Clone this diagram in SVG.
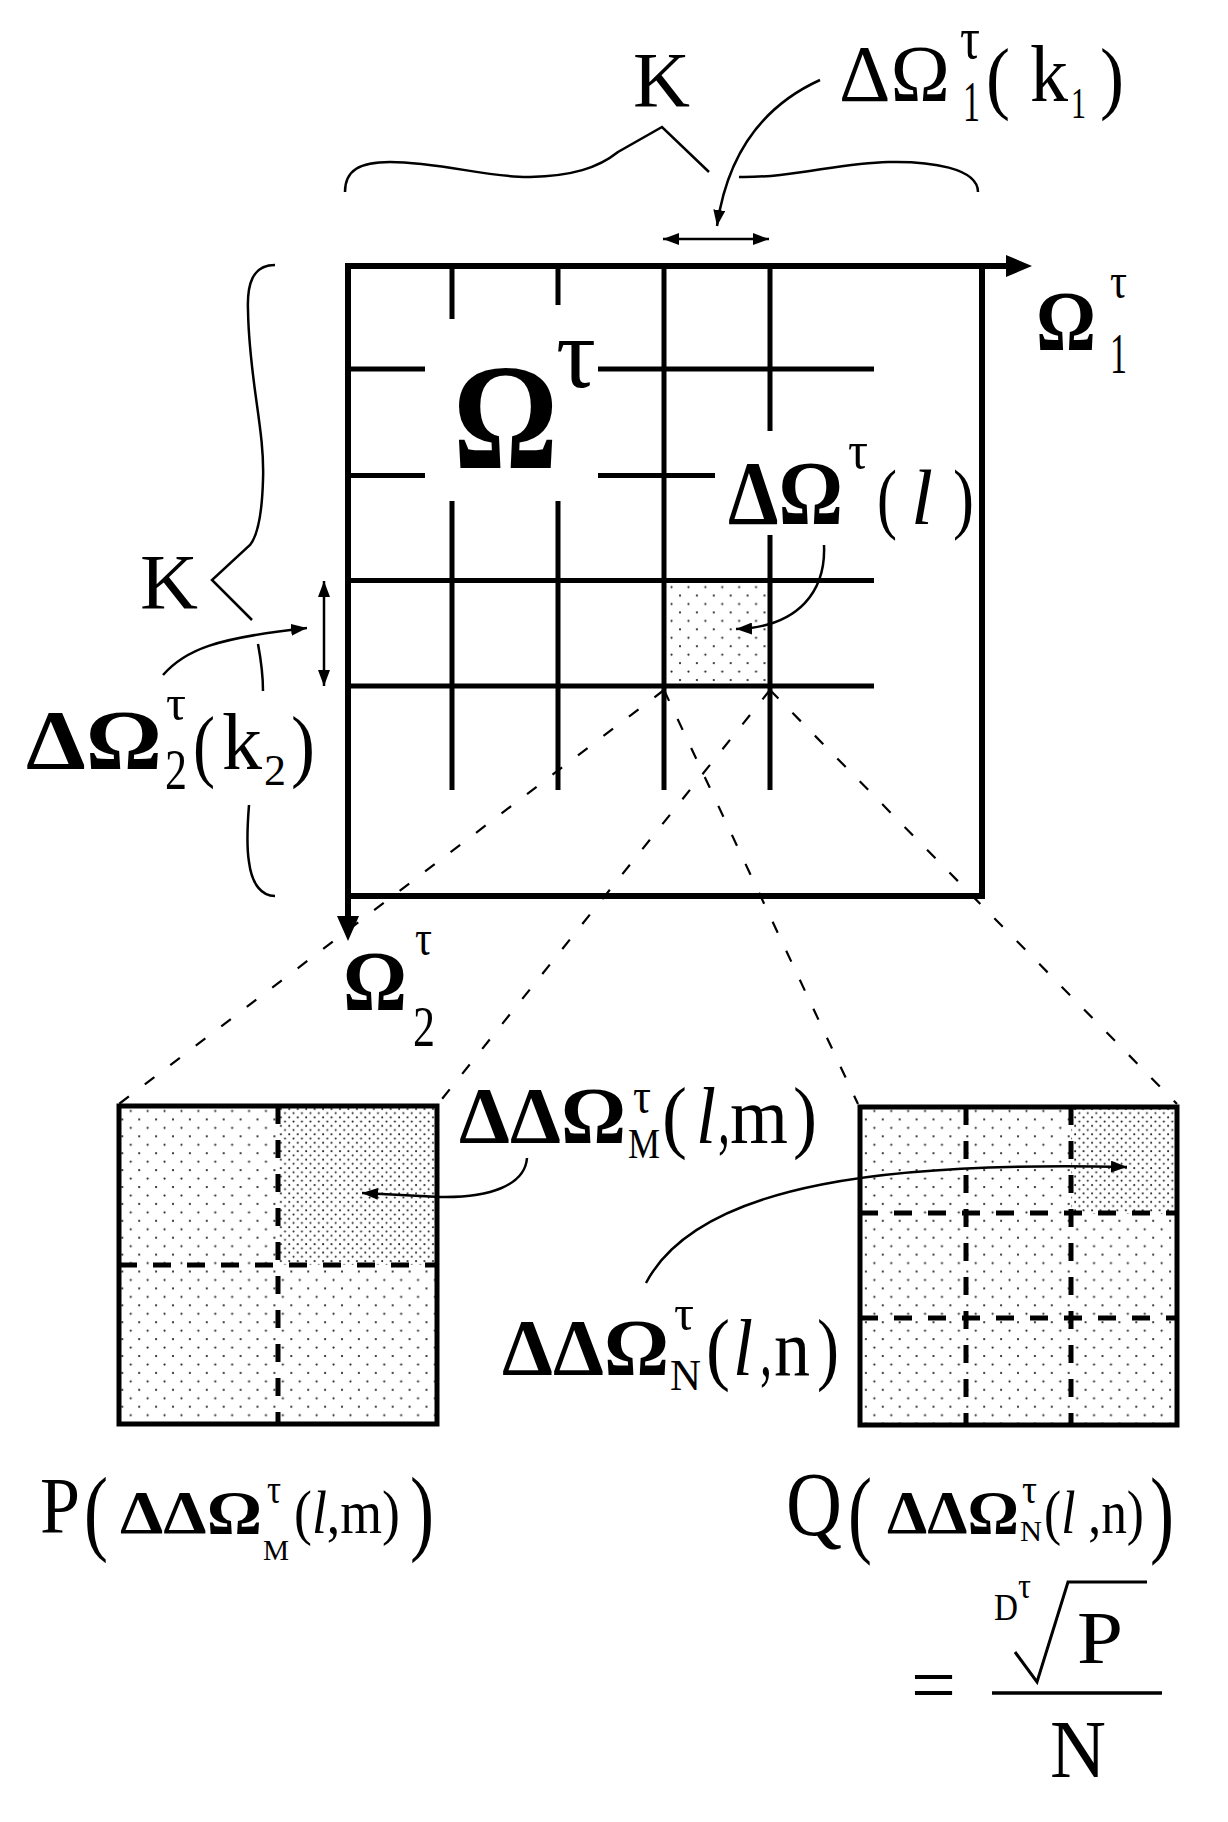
<svg xmlns="http://www.w3.org/2000/svg" width="1228" height="1822" viewBox="0 0 1228 1822">
<style>
.t{font-family:"Liberation Serif","Times New Roman",serif;fill:#000}
.b{font-weight:bold}
.i{font-style:italic}
.grid{stroke:#000;stroke-width:5;fill:none}
.frame{stroke:#000;stroke-width:6;fill:none;stroke-linecap:square}
.thin{stroke:#000;stroke-width:2.5;fill:none}
.proj{stroke:#000;stroke-width:2.2;fill:none;stroke-dasharray:12 20}
.dash{stroke:#000;stroke-width:5;fill:none;stroke-dasharray:18 16}
.box{stroke:#000;stroke-width:5;fill:none;stroke-linecap:square}
</style>
<defs>
<pattern id="light" patternUnits="userSpaceOnUse" width="16.9" height="16.9"><circle cx="4" cy="4" r="1.1" fill="#222"/><circle cx="12.45" cy="12.45" r="1.1" fill="#222"/></pattern>
<pattern id="dense" patternUnits="userSpaceOnUse" width="8.45" height="8.45"><circle cx="2" cy="2" r="1" fill="#222"/><circle cx="6.2" cy="6.2" r="1" fill="#222"/></pattern>
<marker id="ah" markerUnits="userSpaceOnUse" viewBox="0 0 16 12" refX="16" refY="6" markerWidth="16" markerHeight="12" orient="auto-start-reverse"><path d="M0 0 L16 6 L0 12 z" fill="#000"/></marker>
</defs>

<g id="main-grid">
<rect x="664" y="580.5" width="106" height="105.5" fill="url(#light)"/>
<path class="grid" d="M348 369 H425 M598 369 H874 M348 475.5 H425 M598 475.5 H715 M348 580.5 H874 M348 686 H874"/>
<path class="grid" d="M452 266 V319 M452 501 V790 M558 266 V305 M558 501 V790 M664 266 V790 M770 266 V431 M770 535 V790"/>
<path class="frame" d="M982 266 V896 H348"/>
<path d="M348 918 V266 H1008" stroke="#000" stroke-width="6" fill="none"/>
<polygon points="1006,255 1032,266 1006,277" fill="#000"/>
<polygon points="337,916 348,941 359,916" fill="#000"/>
</g>

<g id="label-omega-big">
<text class="t b" x="453" y="468" font-size="150" textLength="105" lengthAdjust="spacingAndGlyphs">Ω</text>
<text class="t" x="556" y="387" font-size="100" textLength="40" lengthAdjust="spacingAndGlyphs">τ</text>
</g>

<g id="label-K-top">
<text class="t" x="633" y="106" font-size="78" textLength="57" lengthAdjust="spacingAndGlyphs">K</text>
<path class="thin" d="M345 192 C345 170 360 162 390 162 C440 162 490 178 530 177 C572 176 598 168 618 152 L662 127 L709 172"/>
<path class="thin" d="M739 177 C790 178 840 163 888 162 C930 161 978 168 978 192"/>
</g>

<g id="label-dOmega1">
<text class="t" x="839" y="101" font-size="80" textLength="111" lengthAdjust="spacingAndGlyphs">ΔΩ</text>
<text class="t" x="960" y="58" font-size="60" textLength="20" lengthAdjust="spacingAndGlyphs">τ</text>
<text class="t" x="963" y="121" font-size="58" textLength="17" lengthAdjust="spacingAndGlyphs">1</text>
<text class="t" x="986" y="104" font-size="80" textLength="24" lengthAdjust="spacingAndGlyphs">(</text>
<text class="t" x="1030" y="101" font-size="80" textLength="38" lengthAdjust="spacingAndGlyphs">k</text>
<text class="t" x="1071" y="118" font-size="44" textLength="15" lengthAdjust="spacingAndGlyphs">1</text>
<text class="t" x="1100" y="104" font-size="80" textLength="24" lengthAdjust="spacingAndGlyphs">)</text>
</g>

<g id="label-omega1">
<text class="t b" x="1036" y="350" font-size="84" textLength="60" lengthAdjust="spacingAndGlyphs">Ω</text>
<text class="t" x="1110" y="298" font-size="50" textLength="17" lengthAdjust="spacingAndGlyphs">τ</text>
<text class="t" x="1110" y="373" font-size="56" textLength="17" lengthAdjust="spacingAndGlyphs">1</text>
</g>

<g id="label-dOmega-l">
<text class="t b" x="728" y="524" font-size="90" textLength="115" lengthAdjust="spacingAndGlyphs">ΔΩ</text>
<text class="t" x="848" y="468" font-size="52" textLength="20" lengthAdjust="spacingAndGlyphs">τ</text>
<text class="t" x="877" y="524" font-size="78" textLength="20" lengthAdjust="spacingAndGlyphs">(</text>
<text class="t i" x="911" y="524" font-size="78" textLength="22" lengthAdjust="spacingAndGlyphs">l</text>
<text class="t" x="953" y="524" font-size="78" textLength="21" lengthAdjust="spacingAndGlyphs">)</text>
</g>

<g id="label-K-left">
<text class="t" x="140" y="608" font-size="78" textLength="58" lengthAdjust="spacingAndGlyphs">K</text>
<path class="thin" d="M275 265 C252 265 247 285 248 310 C249 380 265 430 263 480 C262 515 258 535 250 545 L212 580 L252 620"/>
<path class="thin" d="M258 644 C261 660 263 675 263 691"/>
<path class="thin" d="M249 805 C247 830 247 850 249 862 C252 885 262 896 275 896"/>
</g>

<g id="label-dOmega2">
<text class="t b" x="26" y="769" font-size="84" textLength="136" lengthAdjust="spacingAndGlyphs">ΔΩ</text>
<text class="t" x="166" y="720" font-size="50" textLength="20" lengthAdjust="spacingAndGlyphs">τ</text>
<text class="t" x="165" y="789" font-size="56" textLength="22" lengthAdjust="spacingAndGlyphs">2</text>
<text class="t" x="193" y="772" font-size="80" textLength="22" lengthAdjust="spacingAndGlyphs">(</text>
<text class="t" x="222" y="769" font-size="80" textLength="40" lengthAdjust="spacingAndGlyphs">k</text>
<text class="t" x="264" y="785" font-size="44" textLength="22" lengthAdjust="spacingAndGlyphs">2</text>
<text class="t" x="291" y="772" font-size="80" textLength="24" lengthAdjust="spacingAndGlyphs">)</text>
</g>

<g id="label-omega2">
<text class="t b" x="343" y="1010" font-size="84" textLength="64" lengthAdjust="spacingAndGlyphs">Ω</text>
<text class="t" x="415" y="955" font-size="50" textLength="17" lengthAdjust="spacingAndGlyphs">τ</text>
<text class="t" x="413" y="1046" font-size="56" textLength="22" lengthAdjust="spacingAndGlyphs">2</text>
</g>

<g id="box-M">
<rect x="119" y="1106" width="318" height="318" fill="url(#light)"/>
<rect x="278" y="1106" width="159" height="159" fill="#fff"/>
<rect x="278" y="1106" width="159" height="159" fill="url(#dense)"/>
<path class="dash" d="M278 1106 V1424 M119 1265 H437"/>
<rect class="box" x="119" y="1106" width="318" height="318"/>
</g>

<g id="box-N">
<rect x="860" y="1107" width="317" height="318" fill="url(#light)"/>
<rect x="1071" y="1107" width="106" height="106" fill="#fff"/>
<rect x="1071" y="1107" width="106" height="106" fill="url(#dense)"/>
<path class="dash" d="M966 1107 V1425 M1071 1107 V1425 M860 1213 H1177 M860 1318 H1177"/>
<rect class="box" x="860" y="1107" width="317" height="318"/>
</g>

<g id="label-ddOmegaM">
<text class="t b" x="459" y="1143" font-size="80" textLength="167" lengthAdjust="spacingAndGlyphs">ΔΔΩ</text>
<text class="t" x="633" y="1113" font-size="50" textLength="18" lengthAdjust="spacingAndGlyphs">τ</text>
<text class="t" x="628" y="1158" font-size="42" textLength="32" lengthAdjust="spacingAndGlyphs">M</text>
<text class="t" x="662" y="1143" font-size="80" textLength="25" lengthAdjust="spacingAndGlyphs">(</text>
<text class="t i" x="696" y="1143" font-size="80" textLength="20" lengthAdjust="spacingAndGlyphs">l</text>
<text class="t" x="718" y="1143" font-size="80" textLength="12" lengthAdjust="spacingAndGlyphs">,</text>
<text class="t" x="730" y="1143" font-size="80" textLength="58" lengthAdjust="spacingAndGlyphs">m</text>
<text class="t" x="793" y="1143" font-size="80" textLength="24" lengthAdjust="spacingAndGlyphs">)</text>
</g>

<g id="label-ddOmegaN">
<text class="t b" x="502" y="1375" font-size="80" textLength="167" lengthAdjust="spacingAndGlyphs">ΔΔΩ</text>
<text class="t" x="674" y="1330" font-size="50" textLength="20" lengthAdjust="spacingAndGlyphs">τ</text>
<text class="t" x="670" y="1390" font-size="44" textLength="31" lengthAdjust="spacingAndGlyphs">N</text>
<text class="t" x="706" y="1375" font-size="80" textLength="24" lengthAdjust="spacingAndGlyphs">(</text>
<text class="t i" x="733" y="1375" font-size="80" textLength="20" lengthAdjust="spacingAndGlyphs">l</text>
<text class="t" x="760" y="1375" font-size="80" textLength="12" lengthAdjust="spacingAndGlyphs">,</text>
<text class="t" x="774" y="1375" font-size="80" textLength="36" lengthAdjust="spacingAndGlyphs">n</text>
<text class="t" x="817" y="1375" font-size="80" textLength="22" lengthAdjust="spacingAndGlyphs">)</text>
</g>

<g id="formula-P">
<text class="t" x="40" y="1533" font-size="80" textLength="40" lengthAdjust="spacingAndGlyphs">P</text>
<text class="t" x="84" y="1543" font-size="95" textLength="24" lengthAdjust="spacingAndGlyphs">(</text>
<text class="t b" x="120" y="1533" font-size="62" textLength="142" lengthAdjust="spacingAndGlyphs">ΔΔΩ</text>
<text class="t" x="267" y="1503" font-size="40" textLength="14" lengthAdjust="spacingAndGlyphs">τ</text>
<text class="t" x="263" y="1560" font-size="30" textLength="26" lengthAdjust="spacingAndGlyphs">M</text>
<text class="t" x="294" y="1533" font-size="62" textLength="106" lengthAdjust="spacingAndGlyphs">(<tspan class="i">l</tspan>,m)</text>
<text class="t" x="410" y="1543" font-size="95" textLength="24" lengthAdjust="spacingAndGlyphs">)</text>
</g>

<g id="formula-Q">
<text class="t" x="786" y="1535" font-size="92" textLength="56" lengthAdjust="spacingAndGlyphs">Q</text>
<text class="t" x="848" y="1545" font-size="98" textLength="24" lengthAdjust="spacingAndGlyphs">(</text>
<text class="t b" x="887" y="1533" font-size="62" textLength="132" lengthAdjust="spacingAndGlyphs">ΔΔΩ</text>
<text class="t" x="1022" y="1503" font-size="40" textLength="15" lengthAdjust="spacingAndGlyphs">τ</text>
<text class="t" x="1020" y="1541" font-size="30" textLength="22" lengthAdjust="spacingAndGlyphs">N</text>
<text class="t" x="1044" y="1533" font-size="62" textLength="100" lengthAdjust="spacingAndGlyphs">(<tspan class="i">l</tspan> ,n)</text>
<text class="t" x="1150" y="1545" font-size="98" textLength="24" lengthAdjust="spacingAndGlyphs">)</text>
</g>

<g id="formula-fraction">
<text class="t" x="911" y="1712" font-size="80" textLength="45" lengthAdjust="spacingAndGlyphs">=</text>
<text class="t" x="994" y="1620" font-size="38" textLength="24" lengthAdjust="spacingAndGlyphs">D</text>
<text class="t" x="1018" y="1598" font-size="36" textLength="13" lengthAdjust="spacingAndGlyphs">τ</text>
<path d="M1015 1652 L1037 1682 L1068 1582 H1147" stroke="#000" stroke-width="3" fill="none"/>
<text class="t" x="1077" y="1663" font-size="74" textLength="46" lengthAdjust="spacingAndGlyphs">P</text>
<line x1="992" y1="1693" x2="1162" y2="1693" stroke="#000" stroke-width="3.5"/>
<text class="t" x="1050" y="1777" font-size="82" textLength="56" lengthAdjust="spacingAndGlyphs">N</text>
</g>

<g id="connectors">
<path class="thin" d="M820 80 C765 105 728 150 717 226" marker-end="url(#ah)"/>
<line class="thin" x1="663" y1="239" x2="769" y2="239" marker-start="url(#ah)" marker-end="url(#ah)"/>
<path class="thin" d="M163 675 C185 650 215 638 307 628" marker-end="url(#ah)"/>
<line class="thin" x1="324" y1="581" x2="324" y2="686" marker-start="url(#ah)" marker-end="url(#ah)"/>
<path class="thin" d="M824 545 C826 590 800 627 736 629" marker-end="url(#ah)"/>
<path class="thin" d="M527 1158 C525 1185 490 1198 440 1197 L362 1193" marker-end="url(#ah)"/>
<path class="thin" d="M646 1283 C700 1180 900 1162 1127 1167" marker-end="url(#ah)"/>
<path class="proj" d="M664 690 L119 1104 M664 690 L858 1104 M770 690 L438 1104 M770 690 L1177 1104"/>
</g>
</svg>
